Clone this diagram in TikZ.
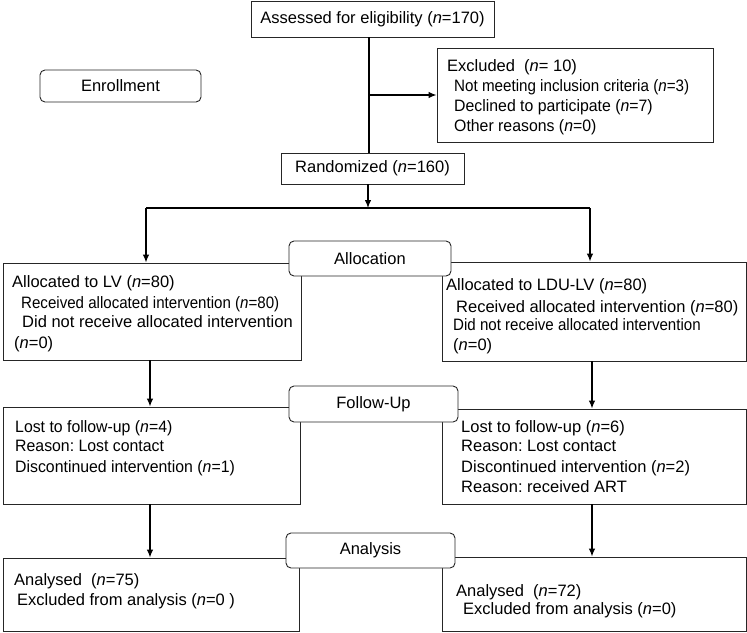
\documentclass[tikz,border=0pt]{standalone}
\usepackage{fontspec}
\usepackage{graphicx}
\setmainfont{Liberation Sans}
\usetikzlibrary{arrows.meta}
\newcommand{\hs}[2]{\scalebox{#1}[1]{#2}}
\frenchspacing
\begin{document}
\begin{tikzpicture}[x=1pt,y=-1pt,
  font=\fontsize{16.5}{20}\selectfont,
  box/.style={draw=black!85, line width=0.9pt, rectangle, inner sep=0pt},
  rbox/.style={draw=black!85, fill=white, line width=0.9pt, rectangle, rounded corners=5pt, inner sep=0pt},
  txt/.style={anchor=base west, inner sep=0pt},
  conn/.style={line width=1.2pt, draw=black},
  arr/.style={conn, -{Latex[length=8pt,width=6.5pt]}}]
\useasboundingbox (0,0) rectangle (747,632);
% rectangular boxes
\node[box, minimum width=243pt, minimum height=36pt] (assess) at (372.5,19) {Assessed for eligibility (\textit{n}=170)};
\node[box, minimum width=276pt, minimum height=94pt] (excl) at (575,95) {};
\node[box, minimum width=183pt, minimum height=31pt] (rand) at (372.5,168.5) {Randomized (\textit{n}=160)};
\node[box, minimum width=298pt, minimum height=97pt] (lv) at (152,311.5) {};
\node[box, minimum width=304pt, minimum height=99pt] (ldu) at (594,311.5) {};
\node[box, minimum width=297pt, minimum height=97pt] (lvf) at (151.5,455.5) {};
\node[box, minimum width=304pt, minimum height=95pt] (lduf) at (594,456.5) {};
\node[box, minimum width=296pt, minimum height=73pt] (lva) at (151,594.5) {};
\node[box, minimum width=304pt, minimum height=74pt] (ldua) at (594,594) {};
% rounded stage boxes
\node[rbox, minimum width=161pt, minimum height=32pt] (enroll) at (120.5,86) {Enrollment};
\node[rbox, minimum width=162pt, minimum height=35pt] (alloc) at (370,258.5) {Allocation};
\node[rbox, minimum width=169pt, minimum height=36pt] (fu) at (373.5,404) {Follow-Up};
\node[rbox, minimum width=169pt, minimum height=35pt] (ana) at (370.5,550.5) {Analysis};
% texts
\node[txt] (ex1) at (447,71) {Excluded\ \ (\textit{n}= 10)};
\node[txt] (ex2) at (454,91) {\hs{0.92}{Not meeting inclusion criteria (\textit{n}=3)}};
\node[txt] (ex3) at (454,111) {\hs{0.96}{Declined to participate (\textit{n}=7)}};
\node[txt] (ex4) at (454,131) {\hs{0.96}{Other reasons (\textit{n}=0)}};
\node[txt] (lv1) at (12,287) {Allocated to LV (\textit{n}=80)};
\node[txt] (lv2) at (21,308) {\hs{0.915}{Received allocated intervention (\textit{n}=80)}};
\node[txt] (lv3) at (22,327) {Did not receive allocated intervention};
\node[txt] (lv4) at (14,348) {(\textit{n}=0)};
\node[txt] (ld1) at (446,290) {Allocated to LDU-LV (\textit{n}=80)};
\node[txt] (ld2) at (456,312) {Received allocated intervention (\textit{n}=80)};
\node[txt] (ld3) at (453,330) {\hs{0.915}{Did not receive allocated intervention}};
\node[txt] (ld4) at (453,350) {(\textit{n}=0)};
\node[txt] (lf1) at (15,432) {\hs{0.96}{Lost to follow-up (\textit{n}=4)}};
\node[txt] (lf2) at (15,451) {\hs{0.96}{Reason: Lost contact}};
\node[txt] (lf3) at (15,472) {\hs{0.96}{Discontinued intervention (\textit{n}=1)}};
\node[txt] (rf1) at (461,432) {Lost to follow-up (\textit{n}=6)};
\node[txt] (rf2) at (461,451) {Reason: Lost contact};
\node[txt] (rf3) at (461,472) {Discontinued intervention (\textit{n}=2)};
\node[txt] (rf4) at (461,492) {Reason: received ART};
\node[txt] (la1) at (14,585) {Analysed\ \ (\textit{n}=75)};
\node[txt] (la2) at (17,605) {Excluded from analysis (\textit{n}=0 )};
\node[txt] (ra1) at (456,596) {Analysed\ \ (\textit{n}=72)};
\node[txt] (ra2) at (463,614) {Excluded from analysis (\textit{n}=0)};
% connectors
\coordinate (c1) at (369,95);
\coordinate (split) at (368,208);
\coordinate (sl) at (146,208);
\coordinate (sr) at (590,208);
\coordinate (xl) at (150,0);
\coordinate (xr) at (592,0);
\draw[conn] (assess.south -| c1) -- (rand.north -| c1);
\draw[arr] (c1) -- (excl.west);
\draw[arr] (rand.south -| split) -- (split);
\draw[conn] (sl) -- (sr);
\draw[arr] (sl) -- (lv.north -| sl);
\draw[arr] (sr) -- (ldu.north -| sr);
\draw[arr] (lv.south -| xl) -- (lvf.north -| xl);
\draw[arr] (ldu.south -| xr) -- (lduf.north -| xr);
\draw[arr] (lvf.south -| xl) -- (lva.north -| xl);
\draw[arr] (lduf.south -| xr) -- (ldua.north -| xr);
\end{tikzpicture}
\end{document}
